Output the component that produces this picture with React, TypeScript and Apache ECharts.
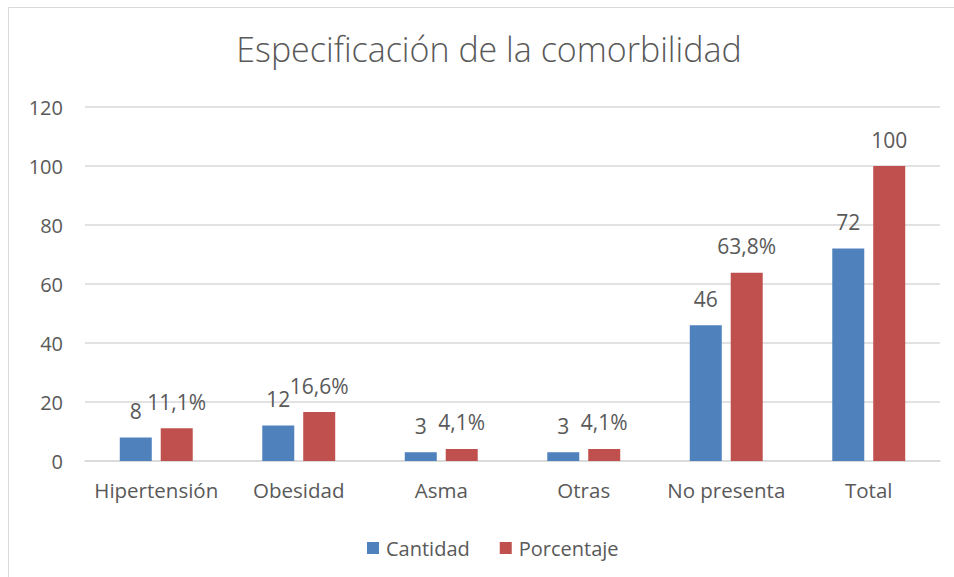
import React, { useEffect, useRef } from "react";
import * as echarts from "echarts";

const categories = ["Hipertensión", "Obesidad", "Asma", "Otras", "No presenta", "Total"];
const cantidad = [8, 12, 3, 3, 46, 72];
const porcentaje = [11.1, 16.6, 4.1, 4.1, 63.8, 100];
const porcentajeLabels = ["11,1%", "16,6%", "4,1%", "4,1%", "63,8%", "100"];
const yTicks = [0, 20, 40, 60, 80, 100, 120];

const FONT = "Open Sans";
const TEXT = "#595959";

export default function App() {
  const ref = useRef<HTMLDivElement>(null);
  useEffect(() => {
    const chart = echarts.init(ref.current!, undefined, { renderer: "svg" });
    chart.setOption({
      animation: false,
      textStyle: { fontFamily: FONT, color: TEXT },
      title: {
        text: "Especificación de la comorbilidad",
        left: 484,
        top: 27,
        textAlign: "center",
        textStyle: { fontFamily: FONT, fontSize: 34, fontWeight: 300, color: TEXT },
      },
      graphic: [
        { type: "line", shape: { x1: 8.5, y1: 7.5, x2: 954, y2: 7.5 }, style: { stroke: "#d9d9d9", lineWidth: 1 } },
        { type: "line", shape: { x1: 8.5, y1: 7.5, x2: 8.5, y2: 577 }, style: { stroke: "#d9d9d9", lineWidth: 1 } },
      ],
      legend: {
        data: ["Cantidad", "Porcentaje"],
        left: 362,
        top: 533,
        itemWidth: 12,
        itemHeight: 12,
        itemGap: 30,
        icon: "rect",
        textStyle: { fontFamily: FONT, fontSize: 20, color: TEXT, padding: [0, 0, 0, 2] },
      },
      grid: { left: 85, right: 14, top: 107, bottom: 116 },
      xAxis: {
        type: "category",
        data: categories,
        axisTick: { show: false },
        axisLine: { lineStyle: { color: "#d9d9d9", width: 1.5 } },
        axisLabel: { fontFamily: FONT, fontSize: 20.5, color: TEXT, margin: 18, interval: 0 },
      },
      yAxis: {
        type: "value",
        min: yTicks[0],
        max: yTicks[yTicks.length - 1],
        interval: 20,
        axisLine: { show: false },
        axisTick: { show: false },
        splitLine: { lineStyle: { color: "#d9d9d9", width: 1.5 } },
        axisLabel: { fontFamily: FONT, fontSize: 20, color: TEXT, margin: 22 },
      },
      series: [
        {
          name: "Cantidad",
          type: "bar",
          data: cantidad,
          barWidth: 32,
          barGap: "28%",
          itemStyle: { color: "#4f81bd" },
          label: { show: true, position: "top", distance: 16, fontFamily: FONT, fontSize: 21, color: TEXT },
        },
        {
          name: "Porcentaje",
          type: "bar",
          data: porcentaje,
          barWidth: 32,
          itemStyle: { color: "#c0504d" },
          label: {
            show: true,
            position: "top",
            distance: 16,
            fontFamily: FONT,
            fontSize: 21,
            color: TEXT,
            formatter: (p: any) => porcentajeLabels[p.dataIndex],
          },
        },
      ],
    });
    return () => chart.dispose();
  }, []);
  return (
    <div
      ref={ref}
      style={{ position: "fixed", left: 0, top: 0, width: 954, height: 577, background: "#fff" }}
    />
  );
}
